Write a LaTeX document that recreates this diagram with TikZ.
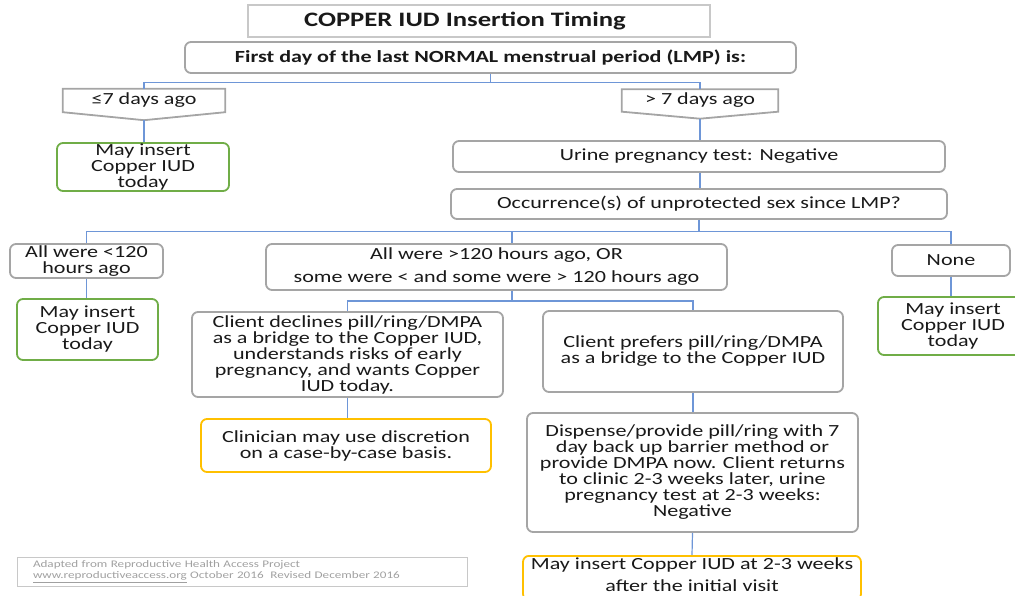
\documentclass[tikz,border=0pt]{standalone}
\usepackage{fontspec}
\setmainfont{Carlito}[FakeStretch=1.3]
\usetikzlibrary{calc}
\definecolor{bordergray}{RGB}{165,165,165}
\definecolor{titlegray}{RGB}{200,200,200}
\definecolor{okgreen}{RGB}{112,173,71}
\definecolor{warnyellow}{RGB}{255,192,0}
\definecolor{linkblue}{RGB}{110,150,215}
\definecolor{footline}{RGB}{200,200,200}
\definecolor{foottext}{RGB}{160,160,160}
\definecolor{txt}{RGB}{25,25,25}
\begin{document}
\begin{tikzpicture}[x=1pt,y=-1pt,
  box/.style={draw=bordergray, line width=1.8pt, rounded corners=6pt, fill=white,
    align=center, inner sep=0pt, text=txt, font=\fontsize{17}{16}\selectfont},
  gbox/.style={box, draw=okgreen},
  ybox/.style={box, draw=warnyellow},
  plain/.style={align=center, inner sep=0pt, text=txt, font=\fontsize{17}{16}\selectfont},
  pent/.style={draw=bordergray, line width=1.8pt, line join=miter},
  link/.style={draw=linkblue, line width=1.2pt}]
\useasboundingbox (0,0) rectangle (1015,596);

% title
\node[draw=titlegray, line width=1.8pt, minimum width=462pt, minimum height=32pt,
  inner sep=0pt, text=txt, font=\fontsize{20.5}{20}\selectfont\bfseries] (title) at (479,21)
  {\hspace*{-28pt}COPPER IUD Insertion Timing};
\node[box, minimum width=611pt, minimum height=31pt, font=\fontsize{17}{16}\selectfont\bfseries] (lmp) at (490.5,57.5)
  {First day of the last NORMAL menstrual period (LMP) is:};

% pentagons
\node[plain, minimum width=162pt, minimum height=23pt] (le7) at (144,100.5) {≤7 days ago};
\draw[pent] (le7.north west) -- (le7.north east) -- (le7.south east) -- ([yshift=-8pt]le7.south) -- (le7.south west) -- cycle;
\coordinate (le7tip) at ([yshift=-8pt]le7.south);
\node[plain, minimum width=156pt, minimum height=22pt] (gt7) at (700,100.5) {> 7 days ago};
\draw[pent] (gt7.north west) -- (gt7.north east) -- (gt7.south east) -- ([yshift=-7pt]gt7.south) -- (gt7.south west) -- cycle;
\coordinate (gt7tip) at ([yshift=-7pt]gt7.south);

\node[gbox, minimum width=172pt, minimum height=48pt] (g1) at (143,167) {May insert\\Copper IUD\\today};
\node[box, minimum width=492pt, minimum height=31pt] (urine) at (699,156.5) {Urine pregnancy test: Negative};
\node[box, minimum width=496pt, minimum height=30pt] (occ) at (699,204) {Occurrence(s) of unprotected sex since LMP?};

\node[box, minimum width=153pt, minimum height=34pt] (lt120) at (86.5,261) {All were <120\\hours ago};
\node[box, minimum width=461pt, minimum height=46pt] (mid) at (496.5,267)
  {All were >120 hours ago, OR\\[7pt]some were < and some were > 120 hours ago};
\node[box, minimum width=118pt, minimum height=31pt] (none) at (951,260.5) {None};

\node[gbox, minimum width=141pt, minimum height=61pt] (g2) at (87.5,329.5) {May insert\\Copper IUD\\today};
\node[gbox, minimum width=150pt, minimum height=58pt] (g3) at (953,326) {May insert\\Copper IUD\\today};

\node[box, minimum width=311pt, minimum height=85pt] (decl) at (347.5,354.5)
  {Client declines pill/ring/DMPA\\as a bridge to the Copper IUD,\\understands risks of early\\pregnancy, and wants Copper\\IUD today.};
\node[box, minimum width=300pt, minimum height=81pt] (pref) at (693,351.5)
  {Client prefers pill/ring/DMPA\\as a bridge to the Copper IUD};
\node[ybox, minimum width=290pt, minimum height=53pt] (y1) at (346,445.5)
  {Clinician may use discretion\\on a case-by-case basis.};
\node[box, minimum width=331pt, minimum height=119pt] (disp) at (692.5,472.5)
  {Dispense/provide pill/ring with 7\\day back up barrier method or\\provide DMPA now. Client returns\\to clinic 2-3 weeks later, urine\\pregnancy test at 2-3 weeks:\\Negative};
\node[ybox, minimum width=338pt, minimum height=44pt, anchor=north] (y2) at (692,555)
  {May insert Copper IUD at 2-3 weeks\\[6pt]after the initial visit\rule[-7pt]{0pt}{7pt}};

% footer
\node[draw=footline, line width=1pt, minimum width=450pt, minimum height=29pt,
  inner xsep=16pt, inner ysep=0pt, text width=418pt, align=left, text=foottext,
  font=\fontsize{10.1}{11}\selectfont] (foot) at (242,571.5)
  {Adapted from Reproductive Health Access Project\\\underline{www.reproductiveaccess.org} October 2016\ \ Revised December 2016};

% connectors
\draw[link] (lmp.south) -- ++(0,9) -| (le7.north);
\draw[link] (lmp.south) -- ++(0,9) -| (gt7.north);
\draw[link] (le7tip) -- (le7tip |- g1.north);
\draw[link] (gt7tip) -- (gt7tip |- urine.north);
\draw[link] (urine.south -| gt7tip) -- (occ.north -| gt7tip);
\draw[link] (occ.south) -- ++(0,12) -| (lt120.north);
\draw[link] (occ.south) -- ++(0,12) -| ([xshift=15.5pt]mid.north);
\draw[link] (occ.south) -- ++(0,12) -| (none.north);
\draw[link] (lt120.south) -- (lt120.south |- g2.north);
\draw[link] (none.south) -- (none.south |- g3.north);
\draw[link] ([xshift=15.5pt]mid.south) -- ++(0,10) -| (decl.north);
\draw[link] ([xshift=15.5pt]mid.south) -- ++(0,10) -| (pref.north);
\draw[link] (decl.south) -- (decl.south |- y1.north);
\draw[link] (pref.south) -- (pref.south |- disp.north);
\draw[link] (disp.south) -- (y2.north);
\end{tikzpicture}
\end{document}
